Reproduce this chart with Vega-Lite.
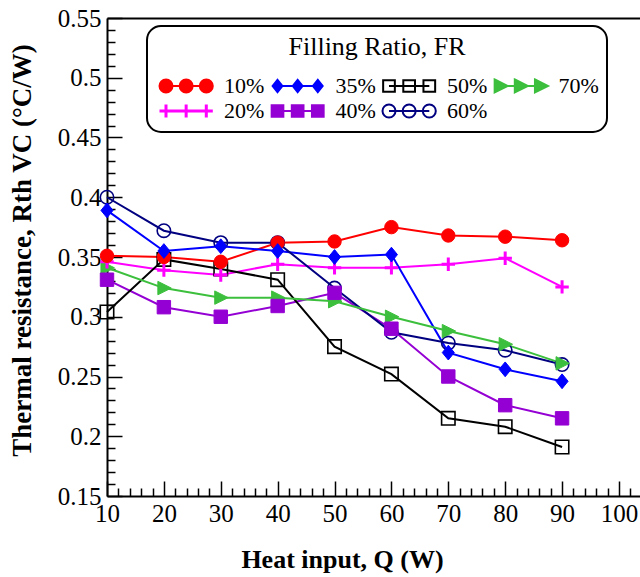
{
  "$schema": "https://vega.github.io/schema/vega-lite/v6.json",
  "width": 533,
  "height": 478,
  "autosize": {"type": "none"},
  "padding": {"left": 107, "top": 18, "right": 0, "bottom": 81},
  "background": "white",
  "config": {
    "view": {"stroke": null},
    "font": "Liberation Serif"
  },
  "data": {
    "values": [
      {"Q": 10, "FR": "10%", "R": 0.351}, {"Q": 20, "FR": "10%", "R": 0.350}, {"Q": 30, "FR": "10%", "R": 0.346}, {"Q": 40, "FR": "10%", "R": 0.362}, {"Q": 50, "FR": "10%", "R": 0.363}, {"Q": 60, "FR": "10%", "R": 0.375}, {"Q": 70, "FR": "10%", "R": 0.368}, {"Q": 80, "FR": "10%", "R": 0.367}, {"Q": 90, "FR": "10%", "R": 0.364},
      {"Q": 10, "FR": "20%", "R": 0.346}, {"Q": 20, "FR": "20%", "R": 0.339}, {"Q": 30, "FR": "20%", "R": 0.335}, {"Q": 40, "FR": "20%", "R": 0.344}, {"Q": 50, "FR": "20%", "R": 0.341}, {"Q": 60, "FR": "20%", "R": 0.341}, {"Q": 70, "FR": "20%", "R": 0.344}, {"Q": 80, "FR": "20%", "R": 0.349}, {"Q": 90, "FR": "20%", "R": 0.325},
      {"Q": 10, "FR": "35%", "R": 0.389}, {"Q": 20, "FR": "35%", "R": 0.355}, {"Q": 30, "FR": "35%", "R": 0.359}, {"Q": 40, "FR": "35%", "R": 0.355}, {"Q": 50, "FR": "35%", "R": 0.350}, {"Q": 60, "FR": "35%", "R": 0.352}, {"Q": 70, "FR": "35%", "R": 0.270}, {"Q": 80, "FR": "35%", "R": 0.256}, {"Q": 90, "FR": "35%", "R": 0.246},
      {"Q": 10, "FR": "40%", "R": 0.331}, {"Q": 20, "FR": "40%", "R": 0.308}, {"Q": 30, "FR": "40%", "R": 0.300}, {"Q": 40, "FR": "40%", "R": 0.309}, {"Q": 50, "FR": "40%", "R": 0.320}, {"Q": 60, "FR": "40%", "R": 0.290}, {"Q": 70, "FR": "40%", "R": 0.250}, {"Q": 80, "FR": "40%", "R": 0.226}, {"Q": 90, "FR": "40%", "R": 0.215},
      {"Q": 10, "FR": "50%", "R": 0.304}, {"Q": 20, "FR": "50%", "R": 0.348}, {"Q": 30, "FR": "50%", "R": 0.340}, {"Q": 40, "FR": "50%", "R": 0.331}, {"Q": 50, "FR": "50%", "R": 0.275}, {"Q": 60, "FR": "50%", "R": 0.252}, {"Q": 70, "FR": "50%", "R": 0.215}, {"Q": 80, "FR": "50%", "R": 0.208}, {"Q": 90, "FR": "50%", "R": 0.191},
      {"Q": 10, "FR": "60%", "R": 0.400}, {"Q": 20, "FR": "60%", "R": 0.372}, {"Q": 30, "FR": "60%", "R": 0.362}, {"Q": 40, "FR": "60%", "R": 0.362}, {"Q": 50, "FR": "60%", "R": 0.324}, {"Q": 60, "FR": "60%", "R": 0.287}, {"Q": 70, "FR": "60%", "R": 0.278}, {"Q": 80, "FR": "60%", "R": 0.272}, {"Q": 90, "FR": "60%", "R": 0.260},
      {"Q": 10, "FR": "70%", "R": 0.341}, {"Q": 20, "FR": "70%", "R": 0.324}, {"Q": 30, "FR": "70%", "R": 0.316}, {"Q": 40, "FR": "70%", "R": 0.316}, {"Q": 50, "FR": "70%", "R": 0.313}, {"Q": 60, "FR": "70%", "R": 0.300}, {"Q": 70, "FR": "70%", "R": 0.288}, {"Q": 80, "FR": "70%", "R": 0.277}, {"Q": 90, "FR": "70%", "R": 0.261}
    ]
  },
  "encoding": {
    "x": {"field": "Q", "type": "quantitative", "scale": {"domain": [10, 103.7], "nice": false, "zero": false}, "axis": null},
    "y": {"field": "R", "type": "quantitative", "scale": {"domain": [0.15, 0.55], "nice": false, "zero": false}, "axis": null}
  },
  "resolve": {"axis": {"x": "independent", "y": "independent"}},
  "layer": [
    {
      "mark": {"type": "line", "strokeWidth": 2},
      "encoding": {
        "x": {
          "field": "Q", "type": "quantitative",
          "scale": {"domain": [10, 103.7], "nice": false, "zero": false},
          "axis": {
            "orient": "bottom", "offset": -15,
            "title": "Heat input, Q  (W)",
            "titleFont": "Liberation Serif", "titleFontSize": 26, "titleFontWeight": "bold", "titleColor": "black",
            "titleX": 235, "titleY": 86, "titleBaseline": "alphabetic", "titleAlign": "center", "titleAnchor": null,
            "values": [10, 20, 30, 40, 50, 60, 70, 80, 90, 100],
            "format": "d",
            "labelFont": "Liberation Serif", "labelFontSize": 25, "labelColor": "black",
            "labelPadding": 5, "labelOverlap": false, "labelFlush": false,
            "domain": false, "grid": false,
            "ticks": true, "tickColor": "black", "tickWidth": 1.5, "tickSize": 15
          }
        },
        "y": {
          "field": "R", "type": "quantitative",
          "scale": {"domain": [0.15, 0.55], "nice": false, "zero": false},
          "axis": {
            "orient": "left", "offset": -15,
            "title": "Thermal resistance, Rth VC (°C/W)",
            "titleFont": "Liberation Serif", "titleFontSize": 27, "titleFontWeight": "bold", "titleColor": "black",
            "titleX": -100, "titleY": 232, "titleBaseline": "middle", "titleAlign": "center", "titleAngle": -90, "titleAnchor": null,
            "values": [0.15, 0.2, 0.25, 0.3, 0.35, 0.4, 0.45, 0.5, 0.55],
            "format": ".2~f",
            "labelFont": "Liberation Serif", "labelFontSize": 25, "labelColor": "black",
            "labelPadding": 6, "labelOverlap": false, "labelFlush": false,
            "domain": false, "grid": false,
            "ticks": true, "tickColor": "black", "tickWidth": 1.5, "tickSize": 15
          }
        },
        "color": {
          "field": "FR", "type": "nominal",
          "scale": {
            "domain": ["10%", "35%", "50%", "70%", "20%", "40%", "60%"],
            "range": ["#ff0000", "#0000ff", "#000000", "#3cbf3c", "#ff00ff", "#9400d3", "#000080"]
          },
          "legend": {
            "title": "Filling Ratio, FR",
            "orient": "none", "legendX": 40, "legendY": 8,
            "columns": 4, "direction": "horizontal",
            "titleFont": "Liberation Serif", "titleFontSize": 26, "titleFontWeight": "normal", "titleColor": "black",
            "titleAnchor": "middle", "titlePadding": 15,
            "labelFont": "Liberation Serif", "labelFontSize": 22, "labelColor": "black", "labelOffset": 47,
            "symbolSize": 169, "symbolStrokeWidth": 2,
            "symbolType": {"expr": "(datum.value === '10%' || datum.value === '60%') ? 'M-1,0A1,1 0 1,0 1,0A1,1 0 1,0 -1,0ZM2.1,0A1,1 0 1,0 4.1,0A1,1 0 1,0 2.1,0ZM5.2,0A1,1 0 1,0 7.2,0A1,1 0 1,0 5.2,0ZM0,0H6.2' : datum.value === '35%' ? 'M0,-0.95L0.75,0L0,0.95L-0.75,0ZM3.1,-0.95L3.85,0L3.1,0.95L2.35,0ZM6.2,-0.95L6.95,0L6.2,0.95L5.45,0ZM0,0H6.2' : (datum.value === '50%' || datum.value === '40%') ? 'M-0.9,-0.9H0.9V0.9H-0.9ZM2.2,-0.9H4V0.9H2.2ZM5.3,-0.9H7.1V0.9H5.3ZM0,0H6.2' : datum.value === '70%' ? 'M-0.9,-1L1.1,0L-0.9,1ZM2.2,-1L4.2,0L2.2,1ZM5.3,-1L7.3,0L5.3,1ZM0,0H6.2' : 'M-1,0H7.2M0,-1V1M3.1,-1V1M6.2,-1V1'"},
            "columnPadding": 1.5, "rowPadding": 1, "padding": 8,
            "strokeColor": "black", "cornerRadius": 14, "fillColor": "white",
            "encoding": {
              "legend": {"strokeWidth": {"value": 2}},
              "symbols": {
                "shape": {"value": {"expr": "(datum.value === '10%' || datum.value === '60%') ? 'M-1,0A1,1 0 1,0 1,0A1,1 0 1,0 -1,0ZM2.1,0A1,1 0 1,0 4.1,0A1,1 0 1,0 2.1,0ZM5.2,0A1,1 0 1,0 7.2,0A1,1 0 1,0 5.2,0ZM0,0H6.2' : datum.value === '35%' ? 'M0,-0.95L0.75,0L0,0.95L-0.75,0ZM3.1,-0.95L3.85,0L3.1,0.95L2.35,0ZM6.2,-0.95L6.95,0L6.2,0.95L5.45,0ZM0,0H6.2' : (datum.value === '50%' || datum.value === '40%') ? 'M-0.9,-0.9H0.9V0.9H-0.9ZM2.2,-0.9H4V0.9H2.2ZM5.3,-0.9H7.1V0.9H5.3ZM0,0H6.2' : datum.value === '70%' ? 'M-0.9,-1L1.1,0L-0.9,1ZM2.2,-1L4.2,0L2.2,1ZM5.3,-1L7.3,0L5.3,1ZM0,0H6.2' : 'M-1,0H7.2M0,-1V1M3.1,-1V1M6.2,-1V1'"}},
                "fill": {"value": {"expr": "datum.value === '10%' ? '#ff0000' : datum.value === '35%' ? '#0000ff' : datum.value === '70%' ? '#3cbf3c' : datum.value === '40%' ? '#9400d3' : 'transparent'"}},
                "strokeWidth": {"value": {"expr": "datum.value === '20%' ? 3 : 2"}},
                "opacity": {"value": 1}
              }
            }
          }
        },
        "order": {"field": "Q", "type": "quantitative"}
      }
    },
    {
      "transform": [{"filter": "datum.FR === '60%'"}],
      "mark": {"type": "point", "shape": "circle", "size": 180, "filled": false, "stroke": "#000080", "fill": "transparent", "strokeWidth": 1.6, "opacity": 1},
      "encoding": {
        "x": {
          "field": "Q", "type": "quantitative",
          "scale": {"domain": [10, 103.7], "nice": false, "zero": false},
          "axis": {
            "orient": "bottom", "offset": -8, "title": null, "labels": false, "domain": false, "grid": false,
            "values": [12, 14, 16, 18, 22, 24, 26, 28, 32, 34, 36, 38, 42, 44, 46, 48, 52, 54, 56, 58, 62, 64, 66, 68, 72, 74, 76, 78, 82, 84, 86, 88, 92, 94, 96, 98, 102],
            "ticks": true, "tickColor": "black", "tickWidth": 1.5, "tickSize": 8
          }
        },
        "y": {
          "field": "R", "type": "quantitative",
          "scale": {"domain": [0.15, 0.55], "nice": false, "zero": false},
          "axis": {
            "orient": "left", "offset": -8, "title": null, "labels": false, "domain": false, "grid": false,
            "values": [0.16, 0.17, 0.18, 0.19, 0.21, 0.22, 0.23, 0.24, 0.26, 0.27, 0.28, 0.29, 0.31, 0.32, 0.33, 0.34, 0.36, 0.37, 0.38, 0.39, 0.41, 0.42, 0.43, 0.44, 0.46, 0.47, 0.48, 0.49, 0.51, 0.52, 0.53, 0.54],
            "ticks": true, "tickColor": "black", "tickWidth": 1.5, "tickSize": 8
          }
        }
      }
    },
    {
      "transform": [{"filter": "datum.FR === '50%'"}],
      "mark": {"type": "point", "shape": "square", "size": 180, "filled": false, "stroke": "#000000", "fill": "transparent", "strokeWidth": 1.6, "opacity": 1},
      "encoding": {
        "x": {
          "field": "Q", "type": "quantitative",
          "scale": {"domain": [10, 103.7], "nice": false, "zero": false},
          "axis": {"orient": "bottom", "title": null, "labels": false, "ticks": false, "grid": false, "domain": true, "domainColor": "black", "domainWidth": 2}
        },
        "y": {
          "field": "R", "type": "quantitative",
          "scale": {"domain": [0.15, 0.55], "nice": false, "zero": false},
          "axis": {"orient": "left", "title": null, "labels": false, "ticks": false, "grid": false, "domain": true, "domainColor": "black", "domainWidth": 2}
        }
      }
    },
    {
      "transform": [{"filter": "datum.FR === '70%'"}],
      "mark": {"type": "point", "shape": "M-0.9,-1L1.1,0L-0.9,1Z", "size": 180, "filled": true, "fill": "#3cbf3c", "stroke": "#3cbf3c", "strokeWidth": 1, "opacity": 1},
      "encoding": {
        "x": {
          "field": "Q", "type": "quantitative",
          "scale": {"domain": [10, 103.7], "nice": false, "zero": false},
          "axis": {"orient": "top", "title": null, "labels": false, "ticks": false, "grid": false, "domain": true, "domainColor": "black", "domainWidth": 2}
        }
      }
    },
    {
      "transform": [{"filter": "datum.FR === '40%'"}],
      "mark": {"type": "point", "shape": "square", "size": 180, "filled": true, "fill": "#9400d3", "stroke": "#9400d3", "strokeWidth": 1, "opacity": 1}
    },
    {
      "transform": [{"filter": "datum.FR === '20%'"}],
      "mark": {"type": "point", "shape": "M-1,0H1M0,-1V1", "size": 180, "filled": false, "stroke": "#ff00ff", "fill": "transparent", "strokeWidth": 3, "opacity": 1}
    },
    {
      "transform": [{"filter": "datum.FR === '10%'"}],
      "mark": {"type": "point", "shape": "circle", "size": 180, "filled": true, "fill": "#ff0000", "stroke": "#ff0000", "strokeWidth": 1, "opacity": 1}
    },
    {
      "transform": [{"filter": "datum.FR === '35%'"}],
      "mark": {"type": "point", "shape": "M0,-1.1L0.9,0L0,1.1L-0.9,0Z", "size": 180, "filled": true, "fill": "#0000ff", "stroke": "#0000ff", "strokeWidth": 1, "opacity": 1}
    }
  ]
}
